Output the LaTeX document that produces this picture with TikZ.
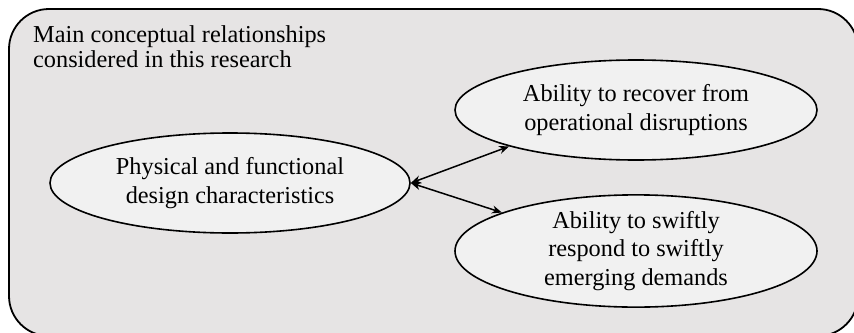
\documentclass[tikz,border=0pt]{standalone}
\usepackage{fontspec}
\setmainfont{Liberation Serif}
\usetikzlibrary{shapes.geometric,arrows.meta}

\definecolor{boxgray}{RGB}{230,228,228}
\definecolor{ovalgray}{RGB}{241,241,241}

\tikzset{
  idea/.style={ellipse, draw, line width=1.6pt, fill=ovalgray, inner sep=0pt,
    minimum width=362pt, minimum height=100pt, align=center,
    font=\fontsize{24.3}{28.5}\selectfont},
  link/.style={{Stealth[length=10pt,width=8pt]}-{Stealth[length=10pt,width=8pt]}, line width=1.5pt}
}

\begin{document}
\begin{tikzpicture}[yscale=-1,x=1pt,y=1pt]

    \useasboundingbox (0,0) rectangle (854,332);
    \clip (0,0) rectangle (854,332);

    % outer frame
    \draw[line width=1.8pt, fill=boxgray, rounded corners=40pt] (9,9) rectangle (858,336);
    \node[anchor=north west, inner sep=0pt, align=left, font=\fontsize{24.3}{25.5}\selectfont] (title) at (33,25)
      {Main conceptual relationships\\considered in this research};

    % concepts
    \node[idea, minimum width=360pt] (design) at (230,183) {Physical and functional\\design characteristics};
    \node[idea] (recover) at (636,110) {Ability to recover from\\operational disruptions};
    \node[idea, minimum height=98pt] (respond) at (636,251) {Ability to swiftly\\respond to swiftly\\emerging demands};

    \draw[link] (design.east) -- (recover.196);
    \draw[link] (design.east) -- (respond.164);

\end{tikzpicture}
\end{document}
